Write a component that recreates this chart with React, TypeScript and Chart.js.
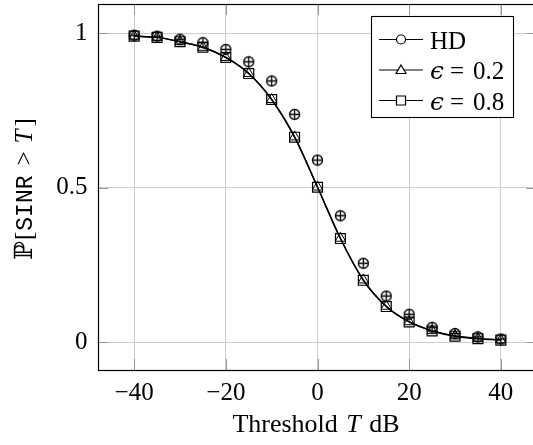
import React, { useEffect, useRef } from "react";
import { Chart, registerables } from "chart.js";

Chart.register(...registerables);

const thresholdsDb = [-40, -35, -30, -25, -20, -15, -10, -5, 0, 5, 10, 15, 20, 25, 30, 35, 40];
const hdValues = [0.994, 0.991, 0.981, 0.97, 0.948, 0.908, 0.846, 0.738, 0.59, 0.41, 0.256, 0.15, 0.091, 0.049, 0.029, 0.018, 0.011];
const eps02Values = [0.991, 0.987, 0.973, 0.955, 0.922, 0.87, 0.786, 0.665, 0.503, 0.337, 0.202, 0.117, 0.067, 0.038, 0.021, 0.013, 0.008];
const eps08Values = [0.991, 0.987, 0.973, 0.955, 0.922, 0.87, 0.786, 0.664, 0.502, 0.336, 0.201, 0.116, 0.066, 0.037, 0.02, 0.012, 0.0075];
const xTicks = [-40, -20, 0, 20, 40];
const yTicks = [0, 0.5, 1];
const seriesLabels = ["HD", "0.2", "0.8"];

const SERIF = "'Liberation Serif', 'DejaVu Serif', serif";
const MONO = "'Liberation Mono', 'DejaVu Sans Mono', monospace";

function makeOplus(): HTMLCanvasElement {
  const c = document.createElement("canvas");
  c.width = 13;
  c.height = 13;
  const g = c.getContext("2d")!;
  g.strokeStyle = "#000";
  g.lineWidth = 1.3;
  g.beginPath();
  g.arc(6.5, 6.5, 5, 0, Math.PI * 2);
  g.stroke();
  g.beginPath();
  g.moveTo(1.5, 6.5);
  g.lineTo(11.5, 6.5);
  g.moveTo(6.5, 1.5);
  g.lineTo(6.5, 11.5);
  g.stroke();
  return c;
}

const fmt = (v: number) => (v < 0 ? "\u2212" + Math.abs(v) : String(v));

const decorPlugin = {
  id: "decor",
  beforeDatasetsDraw(chart: any) {
    const { ctx, chartArea: a, scales } = chart;
    ctx.save();
    ctx.strokeStyle = "rgb(150,150,150)";
    ctx.lineWidth = 1;
    const tl = 11;
    xTicks.forEach((v) => {
      const px = Math.round(scales.x.getPixelForValue(v)) + 0.5;
      ctx.beginPath();
      ctx.moveTo(px, a.bottom);
      ctx.lineTo(px, a.bottom - tl);
      ctx.moveTo(px, a.top);
      ctx.lineTo(px, a.top + tl);
      ctx.stroke();
    });
    yTicks.forEach((v) => {
      const py = Math.round(scales.y.getPixelForValue(v)) + 0.5;
      ctx.beginPath();
      ctx.moveTo(a.left, py);
      ctx.lineTo(a.left + tl, py);
      ctx.moveTo(a.right, py);
      ctx.lineTo(a.right - tl, py);
      ctx.stroke();
    });
    ctx.restore();
  },
  afterDraw(chart: any) {
    const { ctx, chartArea: a } = chart;
    ctx.save();
    ctx.strokeStyle = "#000";
    ctx.lineWidth = 1.2;
    ctx.strokeRect(Math.round(a.left) + 0.5, Math.round(a.top) + 0.5, Math.round(a.right - a.left), Math.round(a.bottom - a.top));

    // x title
    ctx.fillStyle = "#000";
    ctx.textBaseline = "alphabetic";
    const fr = `26px ${SERIF}`;
    const fi = `italic 26px ${SERIF}`;
    ctx.font = fr;
    const w1 = ctx.measureText("Threshold").width;
    const w3 = ctx.measureText("dB").width;
    ctx.font = fi;
    const w2 = ctx.measureText("T").width;
    const gap = 8.5;
    const total = w1 + gap + w2 + gap + w3;
    let x = 316 - total / 2;
    const by = 432;
    ctx.font = fr;
    ctx.fillText("Threshold", x, by);
    x += w1 + gap;
    ctx.font = fi;
    ctx.fillText("T", x, by);
    x += w2 + gap;
    ctx.font = fr;
    ctx.fillText("dB", x, by);

    // y title (rotated)
    ctx.save();
    ctx.translate(32, 189);
    ctx.rotate(-Math.PI / 2);
    const parts: [string, string, number][] = [
      ["\u2119", `25px 'DejaVu Serif', serif`, 1],
      ["[", `25px ${SERIF}`, 1],
      ["SINR", `23px ${MONO}`, 10],
      [">", `25px ${SERIF}`, 8],
      ["T", `italic 25px ${SERIF}`, 3],
      ["]", `25px ${SERIF}`, 0],
    ];
    let len = 0;
    const widths = parts.map(([t, f, g]) => {
      ctx.font = f;
      const w = ctx.measureText(t).width;
      len += w + g;
      return w;
    });
    let yx = -len / 2;
    parts.forEach(([t, f, g], i) => {
      ctx.font = f;
      ctx.fillText(t, yx, 0);
      yx += widths[i] + g;
    });
    ctx.restore();

    // legend
    const L = 371.5, T = 16.5, R = 513.5, B = 117.5;
    ctx.fillStyle = "#fff";
    ctx.fillRect(L, T, R - L, B - T);
    ctx.strokeStyle = "#000";
    ctx.lineWidth = 1.1;
    ctx.strokeRect(L, T, R - L, B - T);
    const rows = [39.5, 70, 100.5];
    rows.forEach((ry, i) => {
      ctx.strokeStyle = "#000";
      ctx.lineWidth = 1.2;
      ctx.beginPath();
      ctx.moveTo(379, ry);
      ctx.lineTo(423, ry);
      ctx.stroke();
      const mx = 401;
      ctx.fillStyle = "#fff";
      ctx.beginPath();
      if (i === 0) {
        ctx.arc(mx, ry, 4.5, 0, Math.PI * 2);
      } else if (i === 1) {
        ctx.moveTo(mx, ry - 5);
        ctx.lineTo(mx + 5, ry + 3.5);
        ctx.lineTo(mx - 5, ry + 3.5);
        ctx.closePath();
      } else {
        ctx.rect(mx - 4.5, ry - 4.5, 9, 9);
      }
      ctx.fill();
      ctx.stroke();
      ctx.fillStyle = "#000";
      const ty = ry + 9;
      if (i === 0) {
        ctx.font = `25px ${SERIF}`;
        ctx.fillText(seriesLabels[0], 430, ty);
      } else {
        ctx.font = `italic 25px 'DejaVu Serif', serif`;
        ctx.fillText("\u03F5", 430, ty);
        ctx.font = `25px ${SERIF}`;
        ctx.fillText("=", 450, ty);
        ctx.fillText(seriesLabels[i], 473, ty);
      }
    });
    ctx.restore();
  },
};

export default function App() {
  const ref = useRef<HTMLCanvasElement | null>(null);
  useEffect(() => {
    if (!ref.current) return;
    const oplus = makeOplus();
    const toPts = (vals: number[]) => thresholdsDb.map((x, i) => ({ x, y: vals[i] }));
    const chart = new Chart(ref.current, {
      type: "scatter",
      data: {
        datasets: [
          {
            label: seriesLabels[0],
            data: toPts(hdValues),
            showLine: false,
            pointStyle: oplus as any,
            pointRadius: 5,
            borderColor: "#000",
          },
          {
            label: seriesLabels[1],
            data: toPts(eps02Values),
            showLine: true,
            borderColor: "#000",
            borderWidth: 1.4,
            cubicInterpolationMode: "monotone",
            pointStyle: "triangle",
            pointRadius: 6,
            pointBackgroundColor: "rgba(0,0,0,0)",
            pointBorderColor: "#000",
            pointBorderWidth: 1,
          },
          {
            label: seriesLabels[2],
            data: toPts(eps08Values),
            showLine: true,
            borderColor: "#000",
            borderWidth: 1.4,
            cubicInterpolationMode: "monotone",
            pointStyle: "rect",
            pointRadius: 7,
            pointBackgroundColor: "rgba(0,0,0,0)",
            pointBorderColor: "#000",
            pointBorderWidth: 1.2,
          },
        ],
      },
      options: {
        animation: false,
        responsive: false,
        devicePixelRatio: 1,
        layout: { autoPadding: false, padding: { left: 0, top: 4, right: 545 - 537.5, bottom: 0 } },
        plugins: { legend: { display: false }, tooltip: { enabled: false } },
        scales: {
          x: {
            type: "linear",
            min: -48,
            max: 48,
            afterFit: (axis: any) => {
              axis.height = 75;
              axis.paddingLeft = 0;
              axis.paddingRight = 0;
              axis.paddingTop = 0;
              axis.paddingBottom = 0;
            },
            afterBuildTicks: (axis: any) => {
              axis.ticks = xTicks.map((v) => ({ value: v }));
            },
            grid: { color: "rgb(205,205,205)", lineWidth: 1, drawTicks: false },
            border: { display: false },
            ticks: {
              padding: 8,
              color: "#000",
              font: { family: SERIF, size: 25 },
              callback: (v: any) => fmt(Number(v)),
              maxRotation: 0,
            },
          },
          y: {
            type: "linear",
            min: -0.0893,
            max: 1.095,
            afterFit: (axis: any) => {
              axis.width = 97.5;
              axis.paddingLeft = 0;
              axis.paddingRight = 0;
              axis.paddingTop = 0;
              axis.paddingBottom = 0;
            },
            afterBuildTicks: (axis: any) => {
              axis.ticks = yTicks.map((v) => ({ value: v }));
            },
            grid: { color: "rgb(205,205,205)", lineWidth: 1, drawTicks: false },
            border: { display: false },
            ticks: {
              padding: 10,
              color: "#000",
              font: { family: SERIF, size: 25 },
              callback: (v: any) => fmt(Number(v)),
            },
          },
        },
      },
      plugins: [decorPlugin],
    });
    return () => chart.destroy();
  }, []);
  return (
    <div
      style={{
        position: "fixed",
        left: 0,
        top: 0,
        width: 533,
        height: 445,
        overflow: "hidden",
        background: "#fff",
      }}
    >
      <canvas ref={ref} width={545} height={445} style={{ display: "block", width: 545, height: 445 }} />
    </div>
  );
}
